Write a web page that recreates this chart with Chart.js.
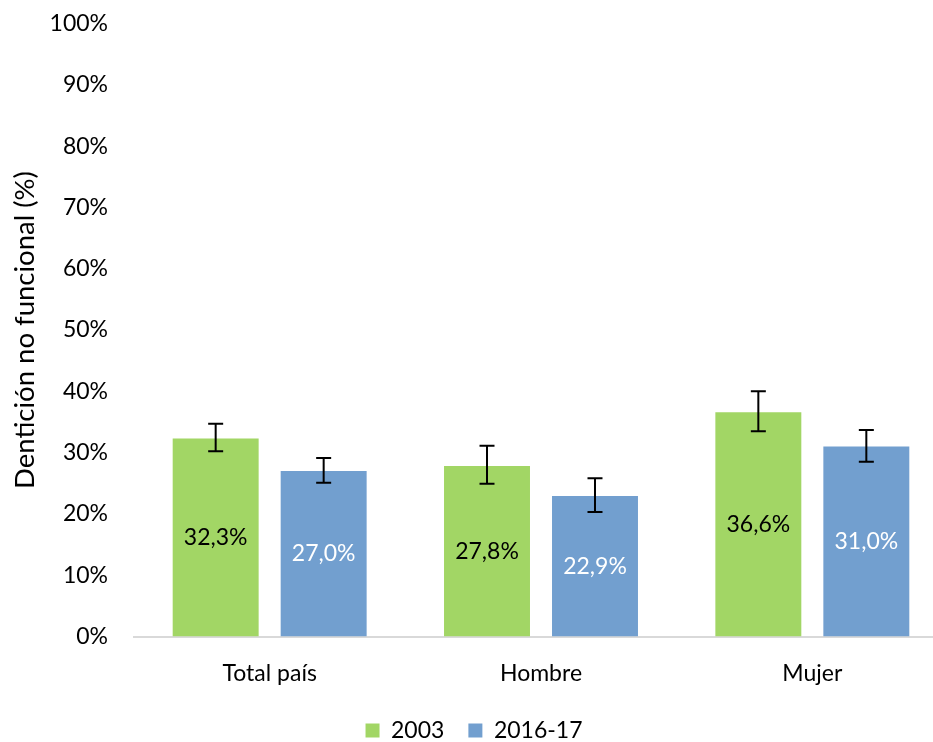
<!DOCTYPE html>
<html>
<head>
<meta charset="utf-8">
<script src="https://cdn.jsdelivr.net/npm/chart.js@4.4.1/dist/chart.umd.min.js"></script>
<style>
  html,body{margin:0;padding:0;background:#fff;overflow:hidden}
  #wrap{width:950px;height:742px;position:relative}
</style>
</head>
<body>
<div id="wrap"><canvas id="c"></canvas></div>
<script>
// categories and series (percent)
const categories = ['Total país', 'Hombre', 'Mujer'];
const seriesNames = ['2003', '2016-17'];
const values2003 = [32.3, 27.8, 36.6];
const values2016 = [27.0, 22.9, 31.0];
// confidence intervals: [low, high]
const ci2003 = [[30.2, 34.7], [24.9, 31.1], [33.5, 40.0]];
const ci2016 = [[25.1, 29.1], [20.3, 25.8], [28.5, 33.7]];
const yTicks = [0, 10, 20, 30, 40, 50, 60, 70, 80, 90, 100];

const FONT = 'Lato';
const fmt = v => v.toFixed(1).replace('.', ',') + '%';

// draws CI whiskers on each bar
const errorBars = {
  id: 'errorBars',
  afterDatasetsDraw(chart){
    const ctx = chart.ctx, ys = chart.scales.y;
    chart.data.datasets.forEach((ds, di) => {
      const meta = chart.getDatasetMeta(di);
      meta.data.forEach((bar, i) => {
        const ci = ds.ci[i];
        const y1 = ys.getPixelForValue(ci[0]), y2 = ys.getPixelForValue(ci[1]);
        ctx.save();
        ctx.strokeStyle = '#000';
        ctx.lineWidth = 2;
        ctx.beginPath();
        ctx.moveTo(bar.x, y1); ctx.lineTo(bar.x, y2);
        ctx.moveTo(bar.x - 7.5, y1); ctx.lineTo(bar.x + 7.5, y1);
        ctx.moveTo(bar.x - 7.5, y2); ctx.lineTo(bar.x + 7.5, y2);
        ctx.stroke();
        ctx.restore();
      });
    });
  }
};

// value labels centred in the bars
const barLabels = {
  id: 'barLabels',
  afterDatasetsDraw(chart){
    const ctx = chart.ctx;
    chart.data.datasets.forEach((ds, di) => {
      const meta = chart.getDatasetMeta(di);
      meta.data.forEach((bar, i) => {
        ctx.save();
        ctx.font = '23px ' + FONT;
        ctx.fillStyle = ds.labelColor;
        ctx.textAlign = 'center';
        ctx.textBaseline = 'middle';
        ctx.fillText(fmt(ds.data[i]), bar.x, (bar.y + bar.base) / 2);
        ctx.restore();
      });
    });
  }
};

new Chart(document.getElementById('c'), {
  type: 'bar',
  data: {
    labels: categories,
    datasets: [
      {label: seriesNames[0], data: values2003, ci: ci2003, labelColor: '#000',
       backgroundColor: '#a2d665', categoryPercentage: 0.796, barPercentage: 0.796},
      {label: seriesNames[1], data: values2016, ci: ci2016, labelColor: '#fff',
       backgroundColor: '#729fcf', categoryPercentage: 0.796, barPercentage: 0.796}
    ]
  },
  options: {
    responsive: true, maintainAspectRatio: false, animation: false,
    layout: {padding: {top: 23.5, right: 2, left: 0, bottom: -10}},
    plugins: {
      tooltip: {enabled: false},
      legend: {
        position: 'bottom',
        labels: {boxWidth: 14, boxHeight: 14, padding: 24, color: '#000',
                 font: {family: FONT, size: 23}}
      }
    },
    scales: {
      x: {
        grid: {display: false, drawTicks: false},
        border: {display: true, color: '#d9d9d9', width: 2},
        ticks: {color: '#000', padding: 23.5, font: {family: FONT, size: 23}},
        afterFit: s => { s.height = 58.5; }
      },
      y: {
        min: 0, max: 100,
        afterBuildTicks: s => { s.ticks = yTicks.map(v => ({value: v})); },
        grid: {display: false, drawTicks: false},
        border: {display: false},
        ticks: {color: '#000', padding: 26, font: {family: FONT, size: 23},
                callback: v => v + '%'},
        title: {display: true, text: 'Dentición no funcional (%)', color: '#000',
                padding: {top: 9, bottom: 0}, font: {family: FONT, size: 27.5}},
        afterFit: s => { s.width = 134; s.paddingTop = 0; s.paddingBottom = 0; }
      }
    }
  },
  plugins: [errorBars, barLabels]
});
</script>
</body>
</html>
